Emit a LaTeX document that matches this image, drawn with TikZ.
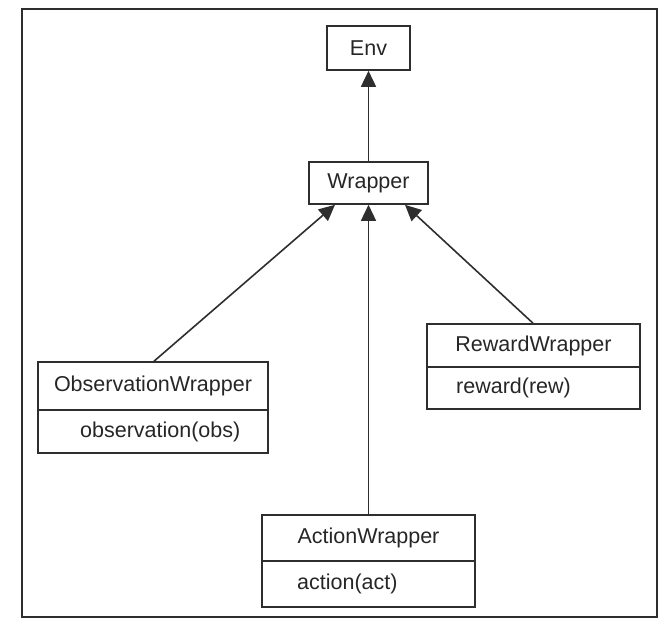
\documentclass[tikz,border=0pt]{standalone}
\usepackage{fontspec}
\setmainfont{Liberation Sans}
\usetikzlibrary{arrows.meta,calc}
\begin{document}
\begin{tikzpicture}[x=1pt,y=-1pt,
  ln/.style={draw=black!82,line width=1.6pt},
  box/.style={ln,rectangle,inner sep=0pt,font=\fontsize{21.5}{24}\selectfont,text=black!85},
  txt/.style={inner sep=0pt,anchor=west,font=\fontsize{21.5}{24}\selectfont,text=black!85},
  inh/.style={ln,-{Triangle[length=16pt,width=15pt]}}]
\useasboundingbox (0,0) rectangle (668,625);
\draw[ln] (22,9) rectangle (657,617);
% Env and Wrapper
\node[box,minimum width=83pt,minimum height=44pt] (env) at (368.5,48) {Env};
\node[box,minimum width=119pt,minimum height=42pt] (wrap) at (368.5,183) {Wrapper};
% ObservationWrapper
\node[box,minimum width=230pt,minimum height=48pt] (obsh) at (153,386) {ObservationWrapper};
\node[box,minimum width=230pt,minimum height=43pt] (obsm) at (153,431.5) {};
\node[txt] (obst) at (80,431.5) {observation(obs)};
% RewardWrapper
\node[box,minimum width=213pt,minimum height=43pt] (rewh) at (533.5,345.5) {RewardWrapper};
\node[box,minimum width=213pt,minimum height=42pt] (rewm) at (533.5,388) {};
\node[txt] (rewt) at (456,388) {reward(rew)};
% ActionWrapper
\node[box,minimum width=213pt,minimum height=46pt] (acth) at (368.5,538) {ActionWrapper};
\node[box,minimum width=213pt,minimum height=46pt] (actm) at (368.5,584) {};
\node[txt] (actt) at (297,584) {action(act)};
% connectors
\draw[inh] (wrap.north) -- (env.south);
\draw[inh] ($(obsh.north)+(1,0)$) -- ($(wrap.south)+(-33.5,0)$);
\draw[inh] (acth.north) -- (wrap.south);
\draw[inh] ($(rewh.north)+(-0.5,0)$) -- ($(wrap.south)+(36.5,0)$);
\end{tikzpicture}
\end{document}
